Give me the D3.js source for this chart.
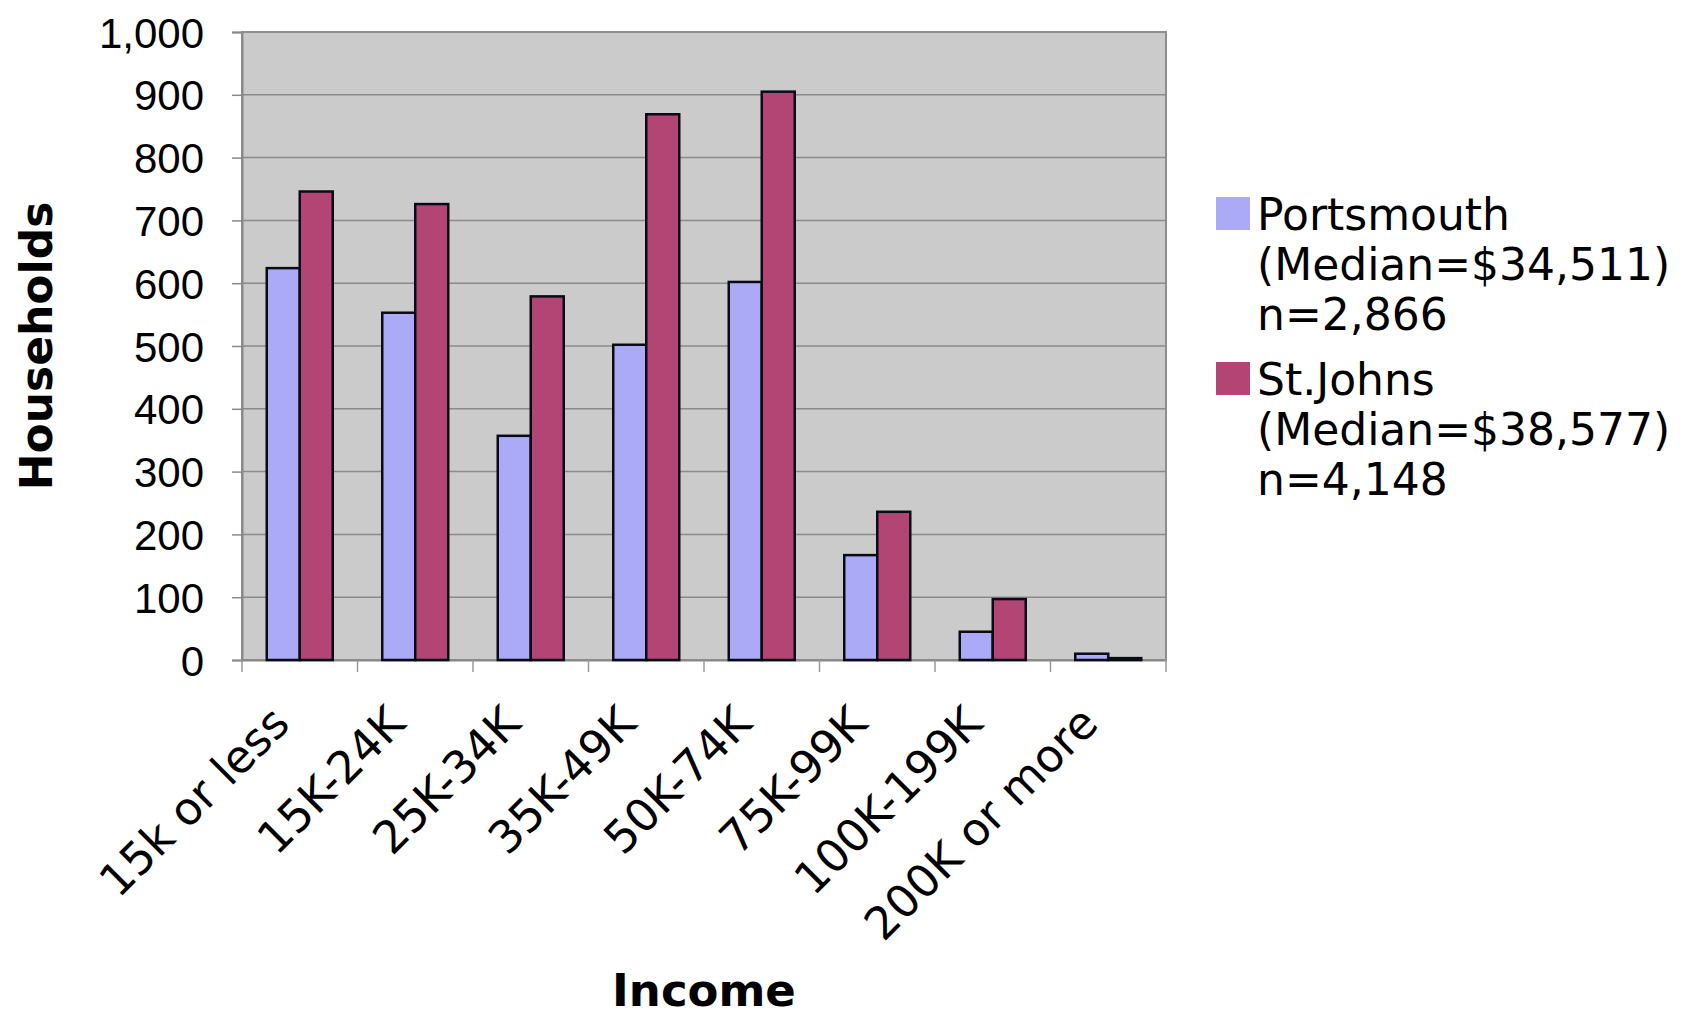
<!DOCTYPE html>
<html>
<head>
<meta charset="utf-8">
<script src="https://cdn.jsdelivr.net/npm/d3@7"></script>
<style>
   body { margin: 0; background: #ffffff; }
   svg { display: block; font-family: "DejaVu Sans", Verdana, sans-serif; }
</style>
</head>
<body>
<svg class="chart"></svg>
<script>
// dados do gráfico
var categories = ["15k or less", "15K-24K", "25K-34K", "35K-49K", "50K-74K", "75K-99K", "100K-199K", "200K or more"];
var seriesNames = ["Portsmouth", "St.Johns"];
var portsmouth = [624, 553, 357, 502, 602, 167, 45, 10];
var stJohns = [746, 726, 579, 869, 905, 236, 97, 3];
var yTicks = [0, 100, 200, 300, 400, 500, 600, 700, 800, 900, 1000];
var legendLines = [
   ["Portsmouth", "(Median=$34,511)", "n=2,866"],
   ["St.Johns", "(Median=$38,577)", "n=4,148"]
];
var colors = ["#aaaaf6", "#b34575"];

// tamanho da tela e da área do gráfico
var width = 1696, height = 1020;
var plot = {left: 242, right: 1166, top: 32, bottom: 660};

var svg = d3.select(".chart")
   .attr("width", width)
   .attr("height", height);

var xScale = d3.scaleBand()
   .domain(categories)
   .range([plot.left, plot.right])
   .padding(0);

// barras dentro de cada categoria (gap de 150%)
var xInner = d3.scaleBand()
   .domain(seriesNames)
   .range([0, xScale.bandwidth()])
   .paddingInner(0)
   .paddingOuter(0.75);

var yScale = d3.scaleLinear()
   .domain([0, 1000])
   .range([plot.bottom, plot.top]);

// fundo cinza do gráfico
svg.append("rect")
   .attr("x", plot.left)
   .attr("y", plot.top)
   .attr("width", plot.right - plot.left)
   .attr("height", plot.bottom - plot.top)
   .style("fill", "#cbcbcb")
   .style("stroke", "#8e8e8e")
   .style("stroke-width", 2);

// linhas de grade
svg.append("g")
   .selectAll("line")
   .data(yTicks.filter(function(d) { return d > 0 && d < 1000; }))
   .enter().append("line")
   .attr("x1", plot.left)
   .attr("x2", plot.right)
   .attr("y1", function(d) { return yScale(d); })
   .attr("y2", function(d) { return yScale(d); })
   .style("stroke", "#8a8a8a")
   .style("stroke-width", 1.5);

// eixo Y
var yAxis = d3.axisLeft(yScale)
   .tickValues(yTicks)
   .tickFormat(d3.format(","))
   .tickSize(10)
   .tickPadding(28);

var yAxisG = svg.append("g")
   .attr("transform", "translate(" + plot.left + ",0)")
   .call(yAxis);

yAxisG.select(".domain").style("stroke", "#888").style("stroke-width", 2);
yAxisG.selectAll(".tick line").style("stroke", "#888").style("stroke-width", 1.5);
yAxisG.selectAll(".tick text")
   .style("font-size", "42px")
   .style("fill", "#000")
   .attr("dy", "0.36em");

// eixo X
var xAxis = d3.axisBottom(xScale)
   .tickValues([])
   .tickSizeOuter(0);

var xAxisG = svg.append("g")
   .attr("transform", "translate(0," + plot.bottom + ")")
   .call(xAxis);

xAxisG.select(".domain").style("stroke", "#888").style("stroke-width", 2);

// marcas entre as categorias
xAxisG.selectAll(".sep")
   .data(categories.concat(["end"]))
   .enter().append("line")
   .attr("class", "sep")
   .attr("x1", function(d, i) { return plot.left + i * xScale.step(); })
   .attr("x2", function(d, i) { return plot.left + i * xScale.step(); })
   .attr("y1", 0)
   .attr("y2", 12)
   .style("stroke", "#999")
   .style("stroke-width", 1.5);

// rótulos das categorias (45 graus)
svg.append("g")
   .selectAll("text")
   .data(categories)
   .enter().append("text")
   .attr("transform", function(d) {
      return "translate(" + (xScale(d) + xScale.bandwidth() / 2 - 8) + "," + 726 + ") rotate(-45)";
   })
   .attr("text-anchor", "end")
   .style("font-size", "45px")
   .style("fill", "#000")
   .text(function(d) { return d; });

// barras
var groups = svg.append("g")
   .selectAll("g")
   .data(categories)
   .enter().append("g")
   .attr("transform", function(d) { return "translate(" + xScale(d) + ",0)"; });

groups.selectAll("rect")
   .data(function(d, i) {
      return [
         {name: seriesNames[0], value: portsmouth[i], color: colors[0]},
         {name: seriesNames[1], value: stJohns[i], color: colors[1]}
      ];
   })
   .enter().append("rect")
   .attr("x", function(d) { return xInner(d.name); })
   .attr("y", function(d) { return yScale(d.value); })
   .attr("width", xInner.bandwidth())
   .attr("height", function(d) { return plot.bottom - yScale(d.value); })
   .style("fill", function(d) { return d.color; })
   .style("stroke", "#0a0a14")
   .style("stroke-width", 2.5);

// títulos dos eixos
svg.append("text")
   .attr("transform", "translate(52," + ((plot.top + plot.bottom) / 2) + ") rotate(-90)")
   .attr("text-anchor", "middle")
   .style("font-size", "44px")
   .style("font-weight", "bold")
   .text("Households");

svg.append("text")
   .attr("x", (plot.left + plot.right) / 2)
   .attr("y", 1006)
   .attr("text-anchor", "middle")
   .style("font-size", "45px")
   .style("font-weight", "bold")
   .text("Income");

// legenda
var legend = svg.append("g")
   .attr("transform", "translate(1216,197)");

var legendItems = legend.selectAll("g")
   .data(legendLines)
   .enter().append("g")
   .attr("transform", function(d, i) { return "translate(0," + (i * 165) + ")"; });

legendItems.append("rect")
   .attr("width", 34)
   .attr("height", 33)
   .style("fill", function(d, i) { return colors[i]; });

legendItems.append("text")
   .style("font-size", "44px")
   .style("fill", "#000")
   .selectAll("tspan")
   .data(function(d) { return d; })
   .enter().append("tspan")
   .attr("x", 41)
   .attr("y", function(d, i) { return 33 + i * 50; })
   .text(function(d) { return d; });
</script>
</body>
</html>
